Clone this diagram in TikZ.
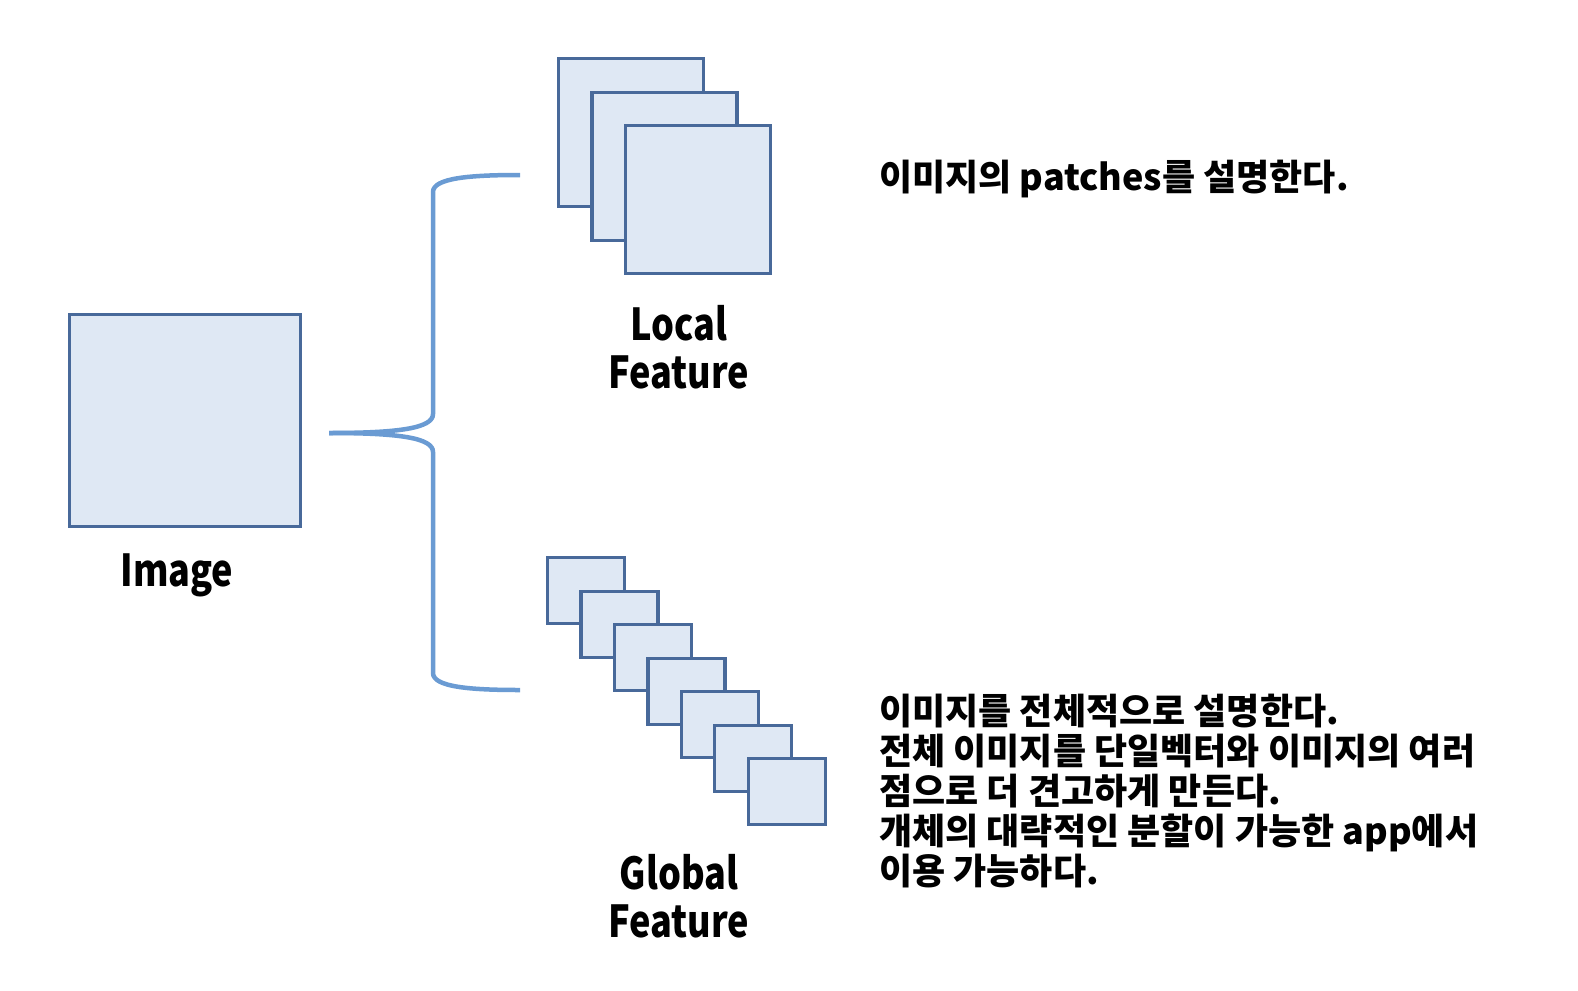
\documentclass[tikz,border=0pt]{standalone}
\usepackage{fontspec}
\usepackage{tikz}
\newfontfamily\krfont[FakeStretch=1.0]{Noto Sans CJK KR}
\newfontfamily\labelfont[FakeStretch=0.82]{Noto Sans CJK KR}
\definecolor{boxfill}{HTML}{DFE8F4}
\definecolor{boxline}{HTML}{48699A}
\definecolor{bracecol}{HTML}{6A9BD3}

\tikzset{
  patch/.style={draw=boxline, fill=boxfill, line width=3.2pt, inner sep=0pt, anchor=north west},
  bigpatch/.style={patch, minimum width=145pt, minimum height=148pt},
  smallpatch/.style={patch, minimum width=77pt, minimum height=66pt},
  caption/.style={font=\labelfont\bfseries\fontsize{44}{48}\selectfont, align=center, inner sep=0pt},
  note/.style={font=\krfont\bfseries\fontsize{36}{40}\selectfont, align=left, inner sep=0pt, anchor=north west}
}

\begin{document}
\begin{tikzpicture}[x=1pt,y=-1pt]
\useasboundingbox (0,0) rectangle (1578,990);

% input image
\node[patch, minimum width=231pt, minimum height=212pt] (image) at (68,313) {};
\node[caption] (imagelabel) at (177,575) {Image};

% local patches
\foreach \i in {0,1,2}{
	\node[bigpatch] (local\i) at (557+33.3*\i, 57+33.5*\i) {};
}
\node[caption] (locallabel) at (679,347) {Local\\Feature};

% global patches
\foreach \i in {0,...,6}{
	\node[smallpatch] (global\i) at (546+33.45*\i, 556+33.5*\i) {};
}
\node[caption] (globallabel) at (679,896) {Global\\Feature};

% brace
\coordinate (tip) at (329,433);
\coordinate (uend) at (520,175);
\coordinate (lend) at (520,690);
\draw[bracecol, line width=4.5pt]
	(uend) .. controls (470,175) and (433,178) .. (433,192) -- (433,414)
	.. controls (433,428) and (400,433) .. (tip);
\draw[bracecol, line width=4.5pt]
	(lend) .. controls (470,690) and (433,687) .. (433,673) -- (433,452)
	.. controls (433,438) and (400,433) .. (tip);

% notes
\node[note] (localnote) at (879,160) {이미지의 patches를 설명한다.};
\node[note] (globalnote) at (879,694) {이미지를 전체적으로 설명한다.\\
전체 이미지를 단일벡터와 이미지의 여러\\
점으로 더 견고하게 만든다.\\
개체의 대략적인 분할이 가능한 app에서\\
이용 가능하다.};

\end{tikzpicture}
\end{document}
